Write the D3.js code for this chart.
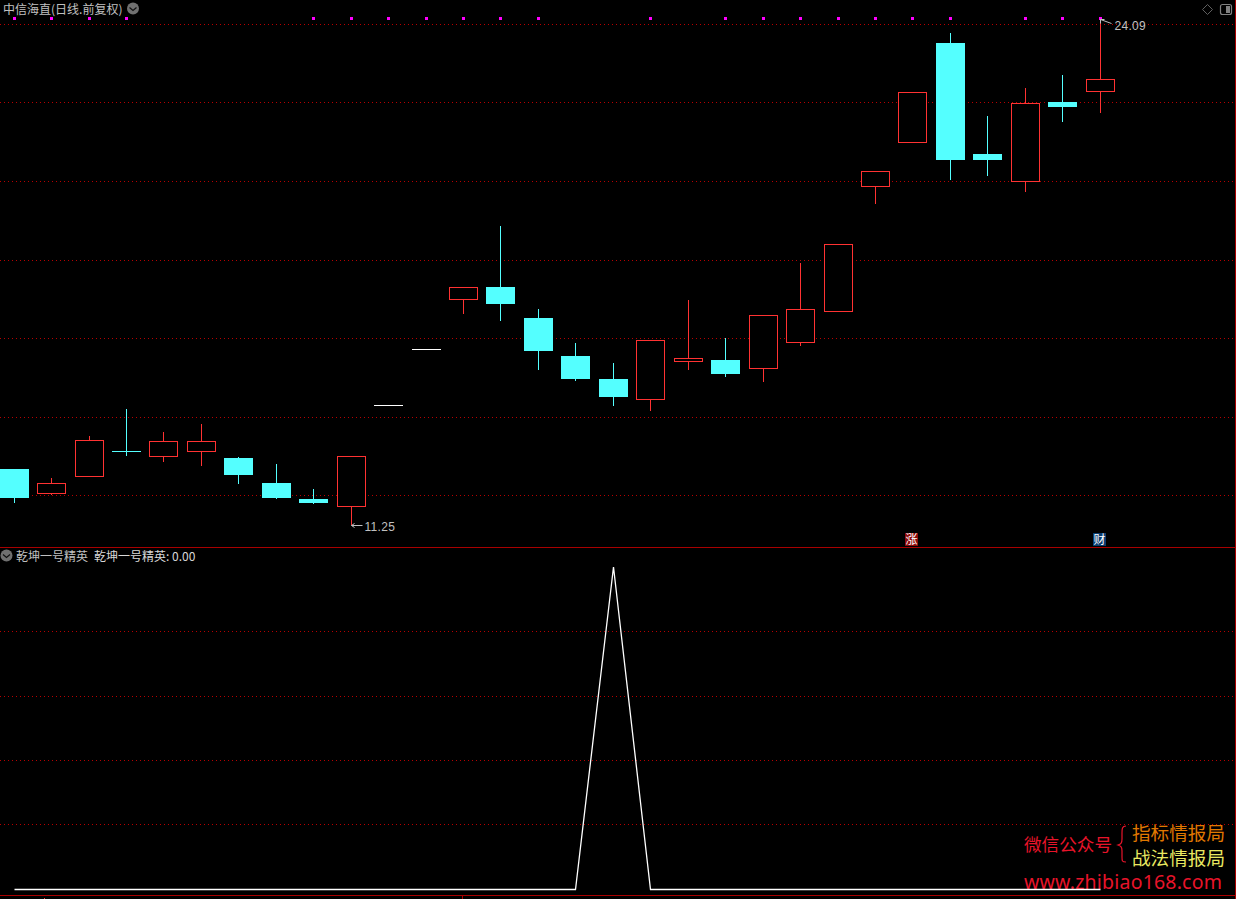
<!DOCTYPE html>
<html lang="zh">
<head>
  <meta charset="UTF-8">
  <title>中信海直</title>
  <script src="https://cdn.jsdelivr.net/npm/d3@7"></script>
  <style>
    html, body {margin: 0; background: #000; overflow: hidden;}
    svg {display: block;}
    text {font-family: "Noto Sans CJK SC", sans-serif;}
  </style>
</head>
<body>
<script>
  // 日线 K线
  const bars = [1,2,3,4,5,6,7,8,9,10,11,12,13,14,15,16,17,18,19,20,21,22,23,24,25,26,27,28,29,30]
  const open  = [12.67,12.04,12.48,13.12,12.98,13.11,12.95,12.30,11.89,11.71,14.28,15.70,16.98,17.27,16.50,15.52,14.95,14.43,15.40,15.42,15.22,15.88,16.67,19.84,20.96,23.48,20.66,19.97,21.98,22.25]
  const close = [11.94,12.31,13.39,13.12,13.38,13.36,12.52,11.96,11.81,13.00,14.28,15.70,17.28,16.86,15.67,14.97,14.50,15.94,15.47,15.10,16.57,16.72,18.37,20.22,22.22,20.53,20.53,21.95,21.88,22.55]
  const high  = [12.67,12.44,13.51,14.19,13.61,13.81,12.98,12.80,12.16,13.00,14.28,15.70,17.28,18.84,16.73,15.87,15.36,15.94,16.96,16.00,16.57,17.90,18.37,20.22,22.22,23.73,21.63,22.34,22.67,24.09]
  const low   = [11.81,12.01,12.47,13.01,12.84,12.75,12.29,11.91,11.78,11.25,14.28,15.70,16.60,16.43,15.18,14.90,14.27,14.14,15.18,15.01,14.88,15.79,16.67,19.40,20.96,20.00,20.11,19.70,21.48,21.70]
  const priceGrid = [23.95,21.96,19.97,17.97,15.98,13.99,12.01]
  const signalBars = [1,2,3,4,9,10,11,12,13,14,15,18,20,21,22,23,24,25,26,28,29,30]

  // 副图 乾坤一号精英
  const indicator = [0,0,0,0,0,0,0,0,0,0,0,0,0,0,0,0,1,0,0,0,0,0,0,0,0,0,0,0,0,0]
  const indicatorGrid = [0.8,0.597,0.4,0.201]

  const width = 1236
  const height = 899
  const red = '#ff3232'
  const cyan = '#54ffff'
  const gridRed = '#b80000'
  const lineRed = '#a80000'
  const gray = '#c0c0c0'

  const x = d3.scaleBand().domain(bars).range([-4.625, 1118.875])
  const cx = d => Math.floor(x(d) + x.bandwidth() / 2) + 0.5
  const y = d3.scaleLinear().domain([11.25, 24.09]).range([525, 19])
  const y2 = d3.scaleLinear().domain([0, 1]).range([889, 567])
  const crisp = v => Math.floor(v) + 0.5

  const svg = d3.select('body').append('svg')
    .attr('width', width)
    .attr('height', height)
    .attr('viewBox', [0, 0, width, height])
    .style('background', '#000')

  // 网格
  const grid = (vals, scale) => svg.append('g')
    .attr('stroke', gridRed)
    .attr('stroke-dasharray', '1 3')
    .selectAll('line')
    .data(vals)
    .join('line')
    .attr('x1', 0)
    .attr('x2', width - 1)
    .attr('y1', d => crisp(scale(d)))
    .attr('y2', d => crisp(scale(d)))
  grid(priceGrid, y)
  grid(indicatorGrid, y2)

  // 分隔线
  const sep = svg.append('g').attr('stroke', lineRed)
  sep.append('line').attr('x1', 0).attr('x2', width).attr('y1', 547.5).attr('y2', 547.5)
  sep.append('line').attr('x1', 0).attr('x2', width).attr('y1', 895.5).attr('y2', 895.5)
  sep.append('line').attr('x1', 1235.5).attr('x2', 1235.5).attr('y1', 0).attr('y2', height)
  sep.append('line').attr('x1', 462.5).attr('x2', 462.5).attr('y1', 896).attr('y2', 899)
  sep.append('line').attr('x1', 44.5).attr('x2', 44.5).attr('y1', 898).attr('y2', 899).attr('stroke', red)

  // 信号点
  svg.append('g')
    .attr('fill', '#ff00ff')
    .selectAll('rect')
    .data(signalBars)
    .join('rect')
    .attr('x', d => Math.floor(cx(d)) - 1)
    .attr('y', 17)
    .attr('width', 3)
    .attr('height', 3)

  // K线
  const candleColor = i => {
    if (close[i] > open[i]) return red
    if (high[i] === low[i]) return '#fff'
    return cyan
  }
  const candles = svg.append('g')
    .selectAll('g')
    .data(bars)
    .join('g')
    .attr('stroke', (d, i) => candleColor(i))

  candles.append('line')
    .attr('x1', d => cx(d))
    .attr('x2', d => cx(d))
    .attr('y1', (d, i) => Math.round(y(high[i])))
    .attr('y2', (d, i) => Math.round(y(low[i])))

  candles.filter((d, i) => open[i] !== close[i])
    .append('rect')
    .attr('x', d => cx(d) - 14)
    .attr('width', 28)
    .attr('y', d => crisp(y(Math.max(open[d - 1], close[d - 1]))))
    .attr('height', d => crisp(y(Math.min(open[d - 1], close[d - 1]))) - crisp(y(Math.max(open[d - 1], close[d - 1]))))
    .attr('fill', d => close[d - 1] > open[d - 1] ? '#000' : candleColor(d - 1))

  // 一字 十字
  candles.filter((d, i) => open[i] === close[i])
    .append('line')
    .attr('x1', d => cx(d) - 14.5)
    .attr('x2', d => cx(d) + 14.5)
    .attr('y1', d => crisp(y(close[d - 1])))
    .attr('y2', d => crisp(y(close[d - 1])))

  // 最高 最低 标注
  const hiBar = 30
  const loBar = 10
  const notes = svg.append('g')
  notes.append('path')
    .attr('d', `M${cx(loBar)},${y(11.25) + 0.5}h11M${cx(loBar)},${y(11.25) + 0.5}l3,-2M${cx(loBar)},${y(11.25) + 0.5}l3,2`)
    .attr('fill', 'none')
    .attr('stroke', gray)
  notes.append('text')
    .attr('x', cx(loBar) + 13)
    .attr('y', y(11.25) + 6)
    .attr('font-size', 12)
    .attr('letter-spacing', 0.3)
    .style('font-family', '"Liberation Sans", sans-serif')
    .attr('fill', gray)
    .text('11.25')
  notes.append('path')
    .attr('d', `M${cx(hiBar)},${y(24.09) + 0.5}l11,4M${cx(hiBar)},${y(24.09) + 0.5}h4M${cx(hiBar)},${y(24.09) + 0.5}v4`)
    .attr('fill', 'none')
    .attr('stroke', gray)
  notes.append('text')
    .attr('x', cx(hiBar) + 14)
    .attr('y', y(24.09) + 11)
    .attr('font-size', 12)
    .attr('letter-spacing', 0.3)
    .style('font-family', '"Liberation Sans", sans-serif')
    .attr('fill', gray)
    .text('24.09')

  // 涨 财 标记
  const badge = (left, color, t) => {
    svg.append('rect').attr('x', left).attr('y', 533).attr('width', 13).attr('height', 13).attr('fill', color)
    svg.append('text').attr('x', left + 6.5).attr('y', 544).attr('text-anchor', 'middle')
      .attr('font-size', 12).attr('fill', '#fff').text(t)
  }
  badge(905, '#8c0a0a', '涨')
  badge(1093, '#0a3c70', '财')

  // 标题
  const label = (px, py, t, fill) => svg.append('text')
    .attr('x', px).attr('y', py).attr('font-size', 12).attr('fill', fill).text(t)
  label(3, 13.5, '中信海直(日线.前复权)', gray)
  label(16, 561, '乾坤一号精英', gray)
  label(94, 561, '乾坤一号精英: 0.00', '#d8d8d8')

  const roundIcon = (cxv, cyv, points) => {
    svg.append('circle').attr('cx', cxv).attr('cy', cyv).attr('r', 6).attr('fill', '#707070')
    svg.append('path').attr('d', points).attr('fill', 'none').attr('stroke', '#111').attr('stroke-width', 1.2)
  }
  roundIcon(133, 8.5, 'M129.5,7.5l3.5,3l3.5,-3')
  roundIcon(6.5, 555.5, 'M3,554.5l3.5,3l3.5,-3')

  // 右上角图标
  svg.append('path')
    .attr('d', 'M1207.5,4.5l5,5l-5,5l-5,-5z')
    .attr('fill', 'none')
    .attr('stroke', '#606060')
  svg.append('rect')
    .attr('x', 1220.5).attr('y', 4.5).attr('width', 11).attr('height', 10).attr('rx', 2)
    .attr('fill', 'none').attr('stroke', '#808080').attr('stroke-width', 1.2)
  svg.append('rect')
    .attr('x', 1226).attr('y', 6).attr('width', 4).attr('height', 7)
    .attr('fill', '#808080')

  // 水印
  const mark = svg.append('g').attr('font-size', 18.6)
  mark.append('text').attr('x', 1024).attr('y', 851).attr('font-size', 17.6).attr('fill', '#e8142a').text('微信公众号')
  mark.append('text').attr('x', 1132).attr('y', 840).attr('fill', '#e07800').text('指标情报局')
  mark.append('text').attr('x', 1132).attr('y', 865).attr('fill', '#e8e860').text('战法情报局')
  mark.append('text').attr('x', 1024).attr('y', 889)
    .attr('font-size', 19.5)
    .attr('letter-spacing', 0.2)
    .style('font-family', '"Noto Sans", sans-serif')
    .attr('fill', '#e8142a')
    .text('www.zhibiao168.com')
  mark.append('path')
    .attr('d', 'M1126,826c-4,0,-4,3,-4,7v6c0,4,-1,5,-4,6c3,1,4,2,4,6v6c0,4,0,5,4,5')
    .attr('fill', 'none')
    .attr('stroke', '#e8142a')
    .attr('stroke-width', 1.2)

  // 副图折线
  svg.append('path')
    .datum(indicator)
    .attr('fill', 'none')
    .attr('stroke', '#fff')
    .attr('stroke-width', 1.3)
    .attr('d', d3.line().x((d, i) => cx(bars[i])).y(d => d === 0 ? y2(d) + 0.5 : y2(d)))
</script>
</body>
</html>
